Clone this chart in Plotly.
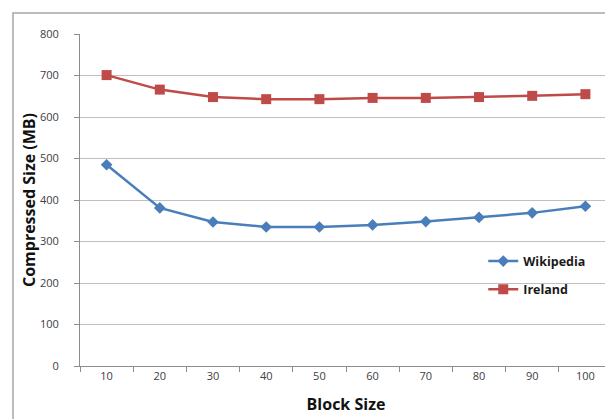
import plotly.graph_objects as go

block_sizes = ["10", "20", "30", "40", "50", "60", "70", "80", "90", "100"]
wikipedia = [485, 381, 347, 335, 335, 340, 348, 358, 369, 385]
ireland = [701, 666, 648, 643, 643, 646, 646, 648, 651, 655]
y_ticks = [0, 100, 200, 300, 400, 500, 600, 700, 800]

FONT = "Open Sans, Liberation Sans, sans-serif"

fig = go.Figure()
fig.add_trace(go.Scatter(
    x=block_sizes, y=wikipedia, name="Wikipedia", mode="lines+markers",
    line=dict(color="#4A7EBB", width=2.5),
    marker=dict(symbol="diamond", size=9, color="#4A7EBB"),
    legendgroup="a",
))
fig.add_trace(go.Scatter(
    x=block_sizes, y=ireland, name="Ireland", mode="lines+markers",
    line=dict(color="#BE4B48", width=2.5),
    marker=dict(symbol="square", size=10, color="#BE4B48"),
    legendgroup="b",
))

fig.update_layout(
    width=613, height=419,
    margin=dict(l=72, r=9, t=26, b=61),
    paper_bgcolor="white", plot_bgcolor="white",
    font=dict(family=FONT, color="#404040"),
    showlegend=True,
    legend=dict(
        x=0.758, y=0.36, xanchor="left", yanchor="top",
        bgcolor="rgba(0,0,0,0)",
        font=dict(family=FONT, size=12.5, color="#1a1a1a", weight="bold"),
        tracegroupgap=9, itemwidth=30,
    ),
    shapes=[dict(
        type="rect", xref="paper", yref="paper",
        x0=(5 - 72) / 532, x1=(616 - 72) / 532,
        y0=(358 - 422) / 332, y1=(358 - 5) / 332,
        line=dict(color="#A6A6A6", width=1.5), layer="below",
    )],
)

fig.update_xaxes(
    type="category", range=[-0.5, 9.5],
    showline=True, linecolor="#8C8C8C", linewidth=1,
    ticks="outside", tickson="boundaries", ticklen=5, tickcolor="#8C8C8C",
    showgrid=False,
    tickfont=dict(family=FONT, size=11, color="#404040"),
    title=dict(text="Block Size", font=dict(family=FONT, size=16, color="#111111", weight="bold"), standoff=16),
)
fig.update_yaxes(
    range=[0, 800], tickvals=y_ticks,
    showline=True, linecolor="#8C8C8C", linewidth=1,
    ticks="outside", ticklen=5, tickcolor="#8C8C8C",
    ticklabelstandoff=13,
    showgrid=True, gridcolor="#BFBFBF", gridwidth=1,
    zeroline=False,
    tickfont=dict(family=FONT, size=11, color="#404040"),
    title=dict(text="Compressed Size (MB)", font=dict(family=FONT, size=16, color="#111111", weight="bold"), standoff=0),
)

fig.write_html("out.html")
